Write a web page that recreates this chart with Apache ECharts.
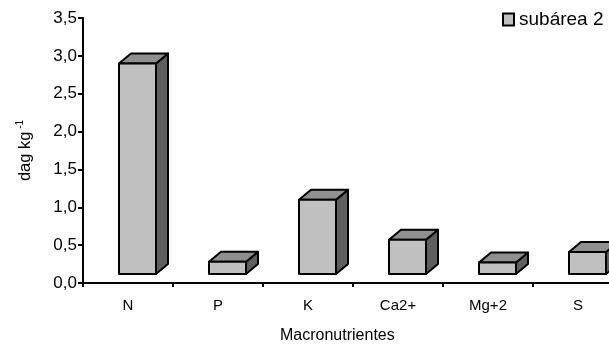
<!DOCTYPE html>
<html>
<head>
<meta charset="utf-8">
<script src="https://cdn.jsdelivr.net/npm/echarts@6/dist/echarts.min.js"></script>
<style>
  html, body { margin: 0; padding: 0; background: #ffffff; }
  #chart { width: 609px; height: 347px; }
</style>
</head>
<body>
<div id="chart"></div>
<script>
// Macronutrient contents (dag kg-1) for sub-area 2
const categories = ['N', 'P', 'K', 'Ca2+', 'Mg+2', 'S'];
const values = [2.9, 0.28, 1.1, 0.57, 0.27, 0.41];
const seriesName = 'subárea 2';
const yMin = 0, yMax = 3.5, yStep = 0.5;

const FONT = "'Liberation Sans', Arial, sans-serif";

const chart = echarts.init(document.getElementById('chart'), null, { renderer: 'canvas' });

// Pseudo-3D column: front face, top face and right side face
function renderColumn(params, api) {
  const cat = api.value(0);
  const v = api.value(1);
  const top = api.coord([cat, v]);
  const base = api.coord([cat, 0]);
  const x0 = top[0] - 9;
  const x1 = top[0] + 28;
  const yT = top[1];
  const yB = base[1] - 9;
  const dx = 12, dy = 10;
  const line = { stroke: '#000000', lineWidth: 2, lineJoin: 'round' };
  return {
    type: 'group',
    children: [
      {
        type: 'polygon',
        shape: { points: [[x1, yB], [x1, yT], [x1 + dx, yT - dy], [x1 + dx, yB - dy]] },
        style: Object.assign({ fill: '#5f5f5f' }, line)
      },
      {
        type: 'polygon',
        shape: { points: [[x0, yT], [x0 + dx, yT - dy], [x1 + dx, yT - dy], [x1, yT]] },
        style: Object.assign({ fill: '#8f8f8f' }, line)
      },
      {
        type: 'rect',
        shape: { x: x0, y: yT, width: x1 - x0, height: yB - yT },
        style: Object.assign({ fill: '#c0c0c0' }, line)
      }
    ]
  };
}

chart.setOption({
  animation: false,
  backgroundColor: '#ffffff',
  textStyle: { fontFamily: FONT, color: '#000000' },
  grid: { left: 83, top: 18, width: 540, height: 265, containLabel: false, outerBoundsMode: 'none' },
  legend: {
    data: [seriesName],
    left: 497,
    top: 5,
    icon: 'rect',
    itemWidth: 11,
    itemHeight: 12,
    itemGap: 5,
    textStyle: { fontFamily: FONT, fontSize: 19, color: '#000000' }
  },
  xAxis: {
    type: 'category',
    data: categories,
    axisLine: { lineStyle: { color: '#000000', width: 2 } },
    axisTick: { show: true, inside: false, length: 4, lineStyle: { color: '#000000', width: 2 } },
    axisLabel: { color: '#000000', fontFamily: FONT, fontSize: 15, margin: 15 },
    splitLine: { show: false }
  },
  yAxis: {
    type: 'value',
    min: yMin,
    max: yMax,
    interval: yStep,
    name: '{a|dag kg}{b| -1}',
    nameLocation: 'middle',
    nameRotate: 90,
    nameGap: 48,
    nameTextStyle: {
      color: '#000000',
      rich: {
        a: { fontFamily: FONT, fontSize: 16.5, color: '#000000', lineHeight: 20 },
        b: { fontFamily: FONT, fontSize: 10, color: '#000000', verticalAlign: 'top', lineHeight: 10 }
      }
    },
    axisLine: { show: true, lineStyle: { color: '#000000', width: 2 } },
    axisTick: { show: true, inside: false, length: 5, lineStyle: { color: '#000000', width: 2 } },
    axisLabel: {
      color: '#000000',
      fontFamily: FONT,
      fontSize: 17,
      margin: 6,
      formatter: (v) => v.toFixed(1).replace('.', ',')
    },
    splitLine: { show: false }
  },
  graphic: [
    {
      type: 'text',
      left: 280,
      top: 328,
      style: { text: 'Macronutrientes', fontFamily: FONT, fontSize: 16, fill: '#000000' }
    }
  ],
  series: [
    {
      name: seriesName,
      type: 'custom',
      renderItem: renderColumn,
      itemStyle: { color: '#c0c0c0', borderColor: '#000000', borderWidth: 1.5 },
      encode: { x: 0, y: 1 },
      data: values.map((v, i) => [i, v]),
      clip: false
    }
  ]
});
</script>
</body>
</html>
